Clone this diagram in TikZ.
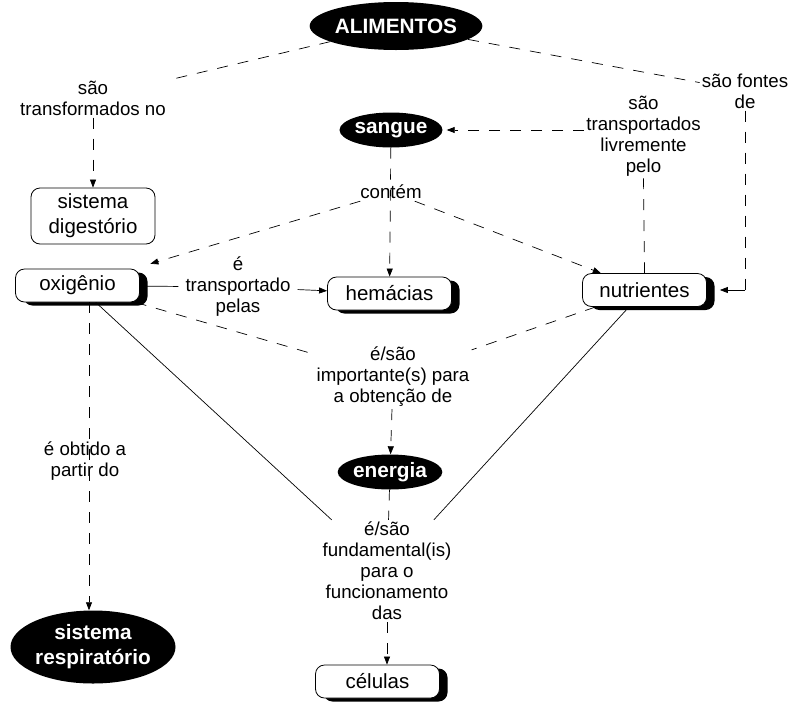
\documentclass[tikz,border=0pt]{standalone}
\usepackage{fontspec}
\setmainfont{Liberation Sans}
\usetikzlibrary{shapes.geometric,arrows.meta,shadows}
\begin{document}
\begin{tikzpicture}[x=1pt,y=-1pt,
  every node/.style={align=center},
  conc/.style={draw=black, line width=0.8pt, fill=white, rounded corners=9pt, minimum width=124pt, minimum height=33pt, inner sep=2pt, font=\fontsize{20.5}{25}\selectfont},
  shad/.style={conc, drop shadow={shadow xshift=8pt, shadow yshift=-3.5pt, fill=black, opacity=1}},
  oval/.style={ellipse, fill=black, text=white, inner sep=0pt, font=\fontsize{20.8}{25}\selectfont\bfseries},
  lbl/.style={inner sep=2pt, font=\fontsize{18.7}{21}\selectfont},
  dsh/.style={draw, line width=0.7pt, dash pattern=on 11pt off 10pt},
  sol/.style={draw, line width=0.7pt},
  arr/.style={-{Triangle[length=8pt,width=6pt]}},
]
\useasboundingbox (0,0) rectangle (792,702);
% concepts
\node[oval, minimum width=172pt, minimum height=48pt] (alim) at (396,26) {ALIMENTOS};
\node[oval, minimum width=94pt, minimum height=35pt] (sangue) at (391,130) {sangue};
\node[oval, minimum width=101pt, minimum height=35pt] (energia) at (390,472) {energia};
\node[oval, minimum width=165pt, minimum height=73pt] (resp) at (93,647) {sistema\\respiratório};
\node[conc, minimum height=56pt] (digest) at (93,216) {sistema\\digestório};
\node[shad] (oxi) at (77.5,285.5) {oxigênio};
\node[shad] (hem) at (389.5,293.5) {hemácias};
\node[shad] (nutr) at (644.5,290) {nutrientes};
\node[shad] (cel) at (377.5,681.5) {células};
% linking phrases
\node[lbl] (lTrans) at (93,98) {são\\transformados no};
\node[lbl] (lCont) at (391,192) {contém};
\node[lbl] (lTransp) at (238,287) {é\\transportado\\pelas};
\node[lbl] (lLivre) at (643.5,136) {são\\transportados\\livremente\\pelo};
\node[lbl] (lFontes) at (745,91) {são fontes\\de};
\node[lbl] (lImp) at (393,377) {é/são\\importante(s) para\\a obtenção de};
\node[lbl] (lObt) at (85,461) {é obtido a\\partir do};
\node[lbl] (lFund) at (387,571) {é/são\\fundamental(is)\\para o\\funcionamento\\das};
% connectors
\draw[dsh] (alim) -- (lTrans);
\draw[dsh, arr] (lTrans) -- (digest);
\draw[dsh] (alim) -- (lFontes);
\draw[dsh, arr] (sangue) -- (hem);
\draw[dsh, arr, shorten >=17pt] (lCont) -- (oxi);
\draw[dsh, arr] (lCont) -- (nutr);
\draw[sol, shorten >=5pt] (oxi) -- (lTransp);
\draw[sol, arr, shorten <=5pt] (lTransp) -- (hem);
\draw[dsh, arr, shorten >=4pt] (lLivre.west |- sangue) -- (sangue);
\draw[dsh] (nutr.north) -- (lLivre.south);
\coordinate (fc) at (lFontes.south |- nutr.east);
\draw[dsh] (lFontes) -- (fc);
\draw[sol, arr, shorten >=13pt] (fc) -- (nutr.east);
\draw[dsh] (oxi) -- (lImp);
\draw[dsh] (nutr) -- (lImp);
\draw[dsh, arr] (lImp) -- (energia);
\draw[dsh, arr] ([xshift=-4pt]oxi.south -| resp.north) -- ([xshift=-4pt]resp.north);
\draw[dsh] (energia) -- (lFund);
\draw[dsh, arr] (lFund) -- (cel.north -| lFund);
\draw[sol] (oxi) -- (lFund);
\draw[sol] (nutr) -- (lFund);
\end{tikzpicture}
\end{document}
